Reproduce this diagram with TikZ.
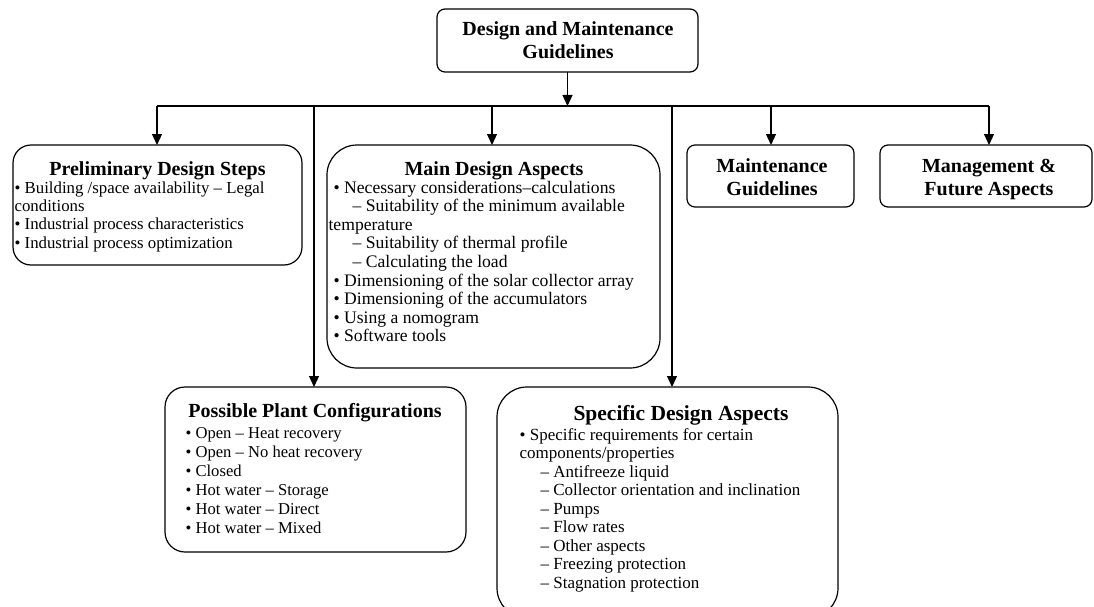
\documentclass[tikz,border=0pt]{standalone}
\usepackage{fontspec}
\setmainfont{Liberation Serif}
\usetikzlibrary{arrows.meta,positioning,calc}
\tikzset{
	box/.style={draw, inner sep=0, outer sep=0},
	head/.style={font=\fontsize{20}{23}\selectfont\bfseries, inner sep=0, anchor=base},
	body/.style={inner sep=0, anchor=base west},
	fs/.style 2 args={font=\fontsize{#1}{#2}\selectfont}
}
\newcommand{\bul}{\hspace*{5pt}\textbullet\ }
\newcommand{\sub}{\hspace*{24pt}-- }

\begin{document}
\begin{tikzpicture}[x=1pt,y=-1pt,>={Triangle[length=11pt,width=10pt]},line width=1.2pt]
\useasboundingbox (0,0) rectangle (1094,607);
% boxes
\node[box, rounded corners=8pt, minimum width=261pt, minimum height=63pt] (top) at (567.5,40.5) {};
\node[box, rounded corners=18pt, minimum width=289pt, minimum height=120pt] (prelim) at (157.5,205) {};
\node[box, rounded corners=30pt, minimum width=333pt, minimum height=223pt] (main) at (493.5,256.5) {};
\node[box, rounded corners=8pt, minimum width=167pt, minimum height=62pt] (maint) at (770.5,176) {};
\node[box, rounded corners=8pt, minimum width=212pt, minimum height=62pt] (mgmt) at (986,176) {};
\node[box, rounded corners=20pt, minimum width=301pt, minimum height=165pt] (plant) at (315.5,469.5) {};
\node[box, rounded corners=30pt, minimum width=341pt, minimum height=231pt] (spec) at (667.5,502.5) {};
% titles
\node[head] (top_t) at (568,36) {\begin{tabular}[t]{@{}c@{}} Design and Maintenance \\ Guidelines \end{tabular}};
\node[head] (prelim_t) at (157.5,175) {Preliminary Design Steps};
\node[head] (main_t) at (494,175) {Main Design Aspects};
\node[head] (maint_t) at (772,172) {\begin{tabular}[t]{@{}c@{}} Maintenance \\ Guidelines \end{tabular}};
\node[head] (mgmt_t) at (989,172) {\begin{tabular}[t]{@{}c@{}} Management \& \\ Future Aspects \end{tabular}};
\node[head] (plant_t) at (315,417) {Possible Plant Configurations};
\node[head, font=\fontsize{21.5}{25}\selectfont\bfseries] (spec_t) at (681,420) {Specific Design Aspects};
% lists
\node[body, fs={16.8}{18.4}] (prelim_1) at (14,193) {\begin{tabular}[t]{@{}l@{}}
\textbullet\ Building /space availability -- Legal \\
conditions \\
\textbullet\ Industrial process characteristics \\
\textbullet\ Industrial process optimization
\end{tabular}};
\node[body, fs={17.6}{18.6}] (main_1) at (328,193) {\begin{tabular}[t]{@{}l@{}}
\bul Necessary considerations--calculations \\
\sub Suitability of the minimum available \\
temperature \\
\sub Suitability of thermal profile \\
\sub Calculating the load \\
\bul Dimensioning of the solar collector array \\
\bul Dimensioning of the accumulators \\
\bul Using a nomogram \\
\bul Software tools
\end{tabular}};
\node[body, fs={16.6}{19}] (plant_1) at (185,438) {\begin{tabular}[t]{@{}l@{}}
\textbullet\ Open -- Heat recovery \\
\textbullet\ Open -- No heat recovery \\
\textbullet\ Closed \\
\textbullet\ Hot water -- Storage \\
\textbullet\ Hot water -- Direct \\
\textbullet\ Hot water -- Mixed
\end{tabular}};
\node[body, fs={17}{18.5}] (spec_1) at (519,440) {\begin{tabular}[t]{@{}l@{}}
\textbullet\ Specific requirements for certain \\
components/properties \\
\hspace*{21pt}-- Antifreeze liquid \\
\hspace*{21pt}-- Collector orientation and inclination \\
\hspace*{21pt}-- Pumps \\
\hspace*{21pt}-- Flow rates \\
\hspace*{21pt}-- Other aspects \\
\hspace*{21pt}-- Freezing protection \\
\hspace*{21pt}-- Stagnation protection
\end{tabular}};
% connectors
\coordinate (bus) at (567.5,106);
\coordinate (b1) at (157,106);
\coordinate (b2) at (314,106);
\coordinate (b3) at (492,106);
\coordinate (b4) at (672,106);
\coordinate (b5) at (771,106);
\coordinate (b6) at (989,106);
\draw[->] (top) -- (bus);
\draw (b1) -- (b6);
\draw[->] (b1) -- (prelim.north -| b1);
\draw[->] (b2) -- (plant.north -| b2);
\draw[->] (b3) -- (main.north -| b3);
\draw[->] (b4) -- (spec.north -| b4);
\draw[->] (b5) -- (maint.north -| b5);
\draw[->] (b6) -- (mgmt.north -| b6);
\end{tikzpicture}
\end{document}
